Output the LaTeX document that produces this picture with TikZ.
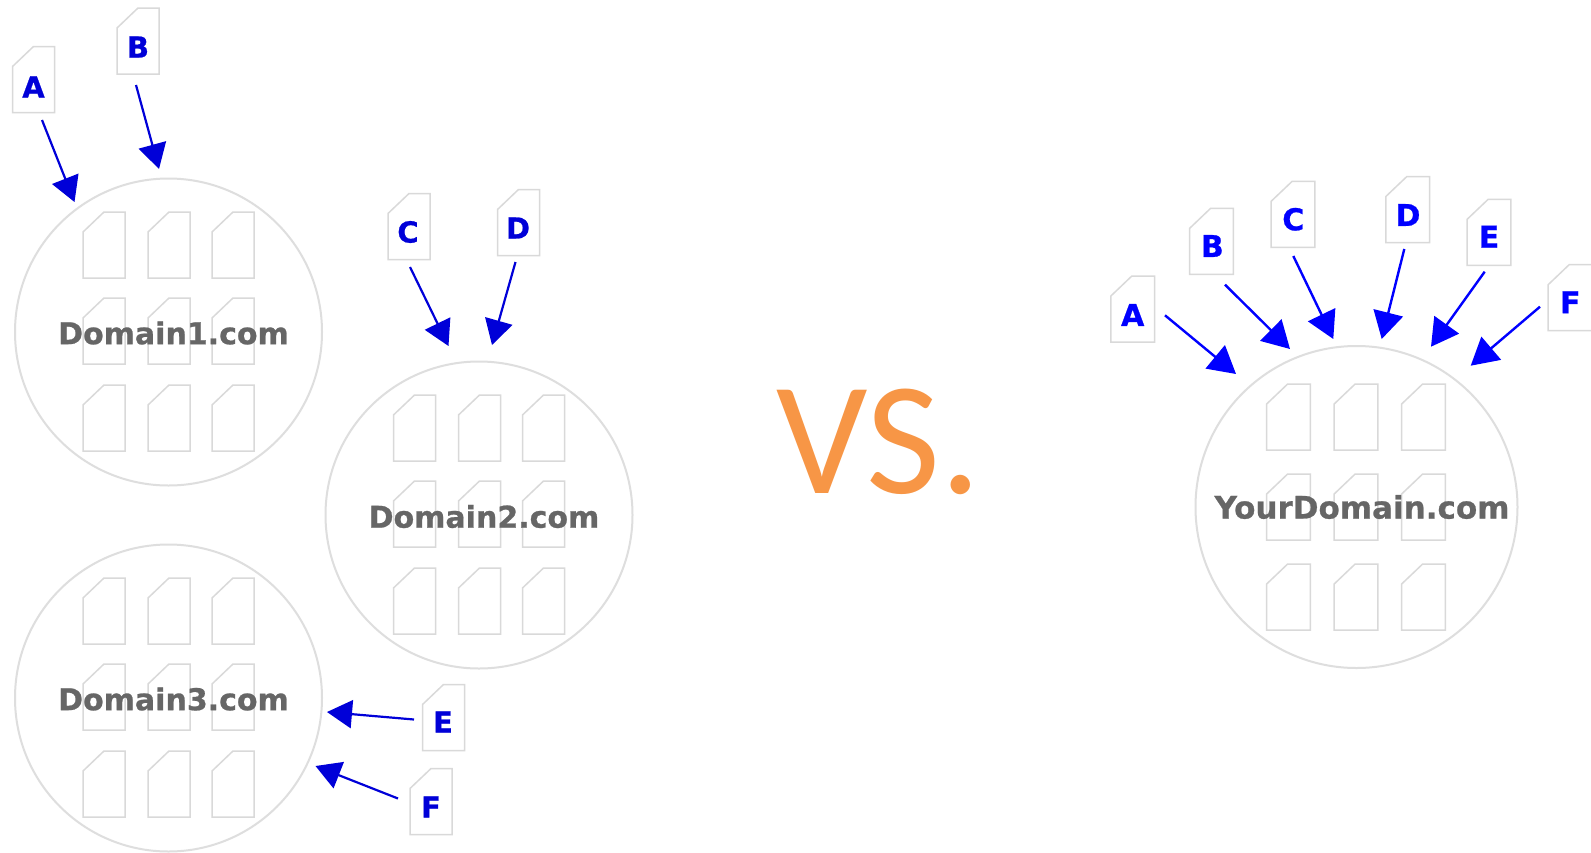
\documentclass[tikz,border=0pt]{standalone}
\usepackage{fontspec}
\setmainfont{DejaVu Sans}[BoldFeatures={FakeBold=0.8}]
\newfontfamily\vsfont{Carlito}
\usetikzlibrary{arrows.meta}
\definecolor{docgrey}{HTML}{D9D9D9}
\definecolor{ringgrey}{HTML}{DEDEDE}
\definecolor{labelgrey}{HTML}{666666}
\definecolor{vsorange}{HTML}{F79646}
\definecolor{leftblue}{HTML}{0000D8}
\tikzset{
  docbox/.style={rectangle,inner sep=0pt,outer sep=0pt},
  smalldoc/.style={docbox,minimum width=42pt,minimum height=66pt},
  yourdoc/.style={docbox,minimum width=43.7pt,minimum height=66pt},
  docline/.style={draw=docgrey,line width=1.5pt,line join=miter},
  ring/.style={circle,draw=ringgrey,line width=2pt,inner sep=0pt,outer sep=0pt},
  dlabel/.style={font=\bfseries\fontsize{30}{30}\selectfont,text=labelgrey,inner sep=0pt},
  ylabel/.style={font=\bfseries\fontsize{31}{31}\selectfont,text=labelgrey,inner sep=0pt},
  letterL/.style={font=\bfseries\fontsize{29}{29}\selectfont,text=leftblue,inner sep=0pt},
  letterR/.style={font=\bfseries\fontsize{30}{30}\selectfont,text=blue,inner sep=0pt},
  arrL/.style={draw=leftblue,line width=2.2pt,-{Triangle[length=25pt,width=28pt,fill=leftblue]}},
  arrR/.style={draw=blue,line width=2.4pt,-{Triangle[length=27pt,width=30pt,fill=blue]}},
}
% \pagenode{style}{name}{x}{y}: a page with one cut corner
\newcommand{\pagenode}[4]{%
  \node[#1] (#2) at (#3,#4) {};
  \draw[docline] (#2.south west) -- (#2.south east) -- (#2.north east)
    -- ([xshift=21pt]#2.north west) -- ([yshift=-20pt]#2.north west) -- cycle;}
% \conn{style}{doc}{sx}{sy}{ring}{tx}{ty}
\newcommand{\conn}[7]{\draw[#1] ([shift={(#3,#4)}]#2.center) -- ([shift={(#6,#7)}]#5.center);}
\begin{document}
\begin{tikzpicture}[x=1pt,y=-1pt]
\useasboundingbox (0,0) rectangle (1591,852);
\fill[white] (0,0) rectangle (1591,852);

% rings
\node[ring,minimum size=307pt] (dom1) at (168.5,332) {};
\node[ring,minimum size=307pt] (dom2) at (479,515) {};
\node[ring,minimum size=307pt] (dom3) at (168.5,698) {};
\node[ring,minimum size=322pt] (your) at (1356.5,507) {};

% pages inside the rings
\foreach \c/\x in {1/104,2/169,3/233}
  \foreach \r/\y in {1/245,2/331,3/418}{
    \pagenode{smalldoc}{a\r\c}{\x}{\y}
    \pagenode{smalldoc}{b\r\c}{\x+310.5}{\y+183}
    \pagenode{smalldoc}{c\r\c}{\x}{\y+366}
  }
\foreach \c/\x in {1/1288.5,2/1356,3/1423.5}
  \foreach \r/\y in {1/417,2/507,3/597}{
    \pagenode{yourdoc}{y\r\c}{\x}{\y}
  }

% domain labels
\node[dlabel] (t1) at (173.5,333) {Domain1.com};
\node[dlabel] (t2) at (484,516.5) {Domain2.com};
\node[dlabel] (t3) at (173.5,699) {Domain3.com};
\node[ylabel] (t4) at (1362,507) {YourDomain.com};

% left letter pages
\pagenode{smalldoc}{lA}{33.5}{79.5}  \node[letterL] (lAt) at (33.5,87) {A};
\pagenode{smalldoc}{lB}{138}{41}     \node[letterL] (lBt) at (138,47) {B};
\pagenode{smalldoc}{lC}{409}{226.5}  \node[letterL] (lCt) at (408,232) {C};
\pagenode{smalldoc}{lD}{518.5}{222.5}\node[letterL] (lDt) at (518,228) {D};
\pagenode{smalldoc}{lE}{443.5}{717.5}\node[letterL] (lEt) at (443,722) {E};
\pagenode{smalldoc}{lF}{431}{801.5}  \node[letterL] (lFt) at (431,807) {F};

% right letter pages
\pagenode{yourdoc}{rA}{1132.7}{309}  \node[letterR] (rAt) at (1132.7,315) {A};
\pagenode{yourdoc}{rB}{1211.5}{241.3}\node[letterR] (rBt) at (1212.3,246) {B};
\pagenode{yourdoc}{rC}{1293}{214.3}  \node[letterR] (rCt) at (1293.3,219.3) {C};
\pagenode{yourdoc}{rD}{1407.7}{209.5}\node[letterR] (rDt) at (1408,215) {D};
\pagenode{yourdoc}{rE}{1489}{232.3}  \node[letterR] (rEt) at (1489,236.7) {E};
\pagenode{yourdoc}{rF}{1570}{297.7}  \node[letterR] (rFt) at (1570.3,302.3) {F};

% connectors, left
\conn{arrL}{lA}{8.5}{40.5}{dom1}{-94}{-130}
\conn{arrL}{lB}{-2}{44}{dom1}{-9.5}{-163}
\conn{arrL}{lC}{1}{40.5}{dom2}{-30.5}{-169}
\conn{arrL}{lD}{-3}{39.5}{dom2}{13}{-170}
\conn{arrL}{lE}{-29.5}{2}{dom3}{158.5}{14}
\conn{arrL}{lF}{-33}{-3}{dom3}{147}{68}

% connectors, right
\conn{arrR}{rA}{32.3}{6.3}{your}{-120.5}{-133}
\conn{arrR}{rB}{13.5}{43.4}{your}{-66.5}{-158}
\conn{arrR}{rC}{0.3}{41.7}{your}{-23.2}{-168}
\conn{arrR}{rD}{-3.4}{39.5}{your}{25.2}{-168}
\conn{arrR}{rE}{-4.3}{39.4}{your}{74.5}{-160.3}
\conn{arrR}{rF}{-30}{9}{your}{114.2}{-141.3}

% VS.
\node[font=\vsfont\fontsize{161}{161}\selectfont,text=vsorange,inner sep=0pt,anchor=base] (vs) at (879,493.5) {VS.};
\end{tikzpicture}
\end{document}
